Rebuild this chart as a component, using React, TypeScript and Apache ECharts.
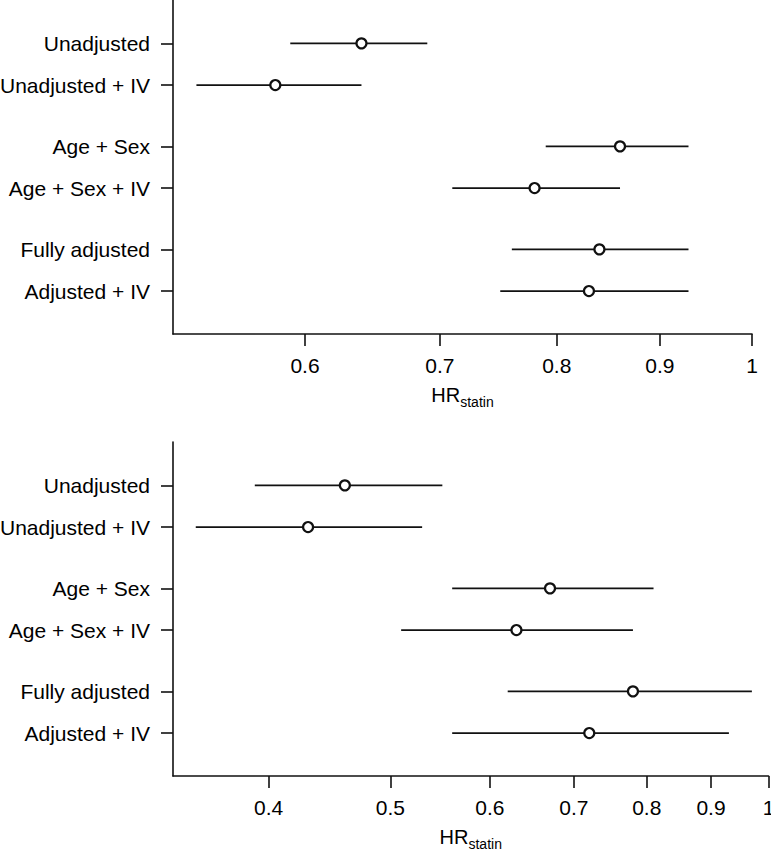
import React, { useEffect, useRef } from 'react';
import * as echarts from 'echarts';

// ---- Data ----
const rowLabels = ['Unadjusted', 'Unadjusted + IV', 'Age + Sex', 'Age + Sex + IV', 'Fully adjusted', 'Adjusted + IV'];

const topEst = [0.64, 0.58, 0.86, 0.78, 0.84, 0.83];
const topLo = [0.59, 0.53, 0.79, 0.71, 0.76, 0.75];
const topHi = [0.69, 0.64, 0.93, 0.86, 0.93, 0.93];

const bottomEst = [0.46, 0.43, 0.67, 0.63, 0.78, 0.72];
const bottomLo = [0.39, 0.35, 0.56, 0.51, 0.62, 0.56];
const bottomHi = [0.55, 0.53, 0.81, 0.78, 0.97, 0.93];

const topTicks = [0.6, 0.7, 0.8, 0.9, 1];
const bottomTicks = [0.4, 0.5, 0.6, 0.7, 0.8, 0.9, 1];

const topRange = [0.516, 1];
const bottomRange = [0.3357, 1];

// ---- Layout ----
const GROUP_STEP = 2.47;
const rowPos = rowLabels.map((_, i) => Math.floor(i / 2) * GROUP_STEP + (i % 2));
const Y_MIN = -1.04;
const Y_MAX = 6.97;
const FONT = '"Liberation Sans", Arial, Helvetica, sans-serif';
const INK = '#111';

const fmtTick = (v: number) => String(Number(Math.exp(v).toFixed(2)));
const fmtRow = (v: number) => {
  let best = 0;
  let bd = Infinity;
  rowPos.forEach((p, i) => {
    const d = Math.abs(p - v);
    if (d < bd) { bd = d; best = i; }
  });
  return rowLabels[best];
};

function xAxis(idx: number, ticks: number[], range: number[]) {
  const tv = ticks.map(Math.log);
  return {
    type: 'value',
    gridIndex: idx,
    min: Math.log(range[0]),
    max: Math.log(range[1]),
    axisLine: { show: true, onZero: false, lineStyle: { color: INK, width: 1.6 } },
    axisTick: { show: true, customValues: tv, length: 12, lineStyle: { color: INK, width: 1.6 } },
    axisLabel: { customValues: tv, formatter: fmtTick, margin: 21, fontSize: 21, color: '#000', fontFamily: FONT },
    splitLine: { show: false },
    name: '{hr|HR}{sub|statin}',
    nameLocation: 'middle',
    nameGap: 51,
    nameTextStyle: {
      color: '#000',
      fontFamily: FONT,
      rich: {
        hr: { fontSize: 20, lineHeight: 24, verticalAlign: 'top', fontFamily: FONT, color: '#000' },
        sub: { fontSize: 14, verticalAlign: 'bottom', fontFamily: FONT, color: '#000' },
      },
    },
  };
}

function yAxis(idx: number) {
  return {
    type: 'value',
    gridIndex: idx,
    inverse: true,
    min: Y_MIN,
    max: Y_MAX,
    axisLine: { show: true, onZero: false, lineStyle: { color: INK, width: 1.6 } },
    axisTick: { show: true, customValues: rowPos, length: 12, lineStyle: { color: INK, width: 1.6 } },
    axisLabel: { customValues: rowPos, formatter: fmtRow, margin: 23, fontSize: 21, color: '#000', fontFamily: FONT },
    splitLine: { show: false },
  };
}

function panelSeries(idx: number, est: number[], lo: number[], hi: number[]) {
  const ciData = est.map((_, i) => [Math.log(lo[i]), Math.log(hi[i]), rowPos[i]]);
  const ptData = est.map((v, i) => [Math.log(v), rowPos[i]]);
  return [
    {
      type: 'custom',
      xAxisIndex: idx,
      yAxisIndex: idx,
      data: ciData,
      encode: { x: [0, 1], y: 2 },
      z: 2,
      silent: true,
      renderItem: (_p: any, api: any) => {
        const a = api.coord([api.value(0), api.value(2)]);
        const b = api.coord([api.value(1), api.value(2)]);
        return {
          type: 'line',
          shape: { x1: a[0], y1: a[1], x2: b[0], y2: b[1] },
          style: { stroke: INK, lineWidth: 1.8 },
        };
      },
    },
    {
      type: 'scatter',
      xAxisIndex: idx,
      yAxisIndex: idx,
      data: ptData,
      symbol: 'circle',
      symbolSize: 10,
      z: 3,
      silent: true,
      itemStyle: { color: '#fff', borderColor: INK, borderWidth: 2.2, opacity: 1 },
    },
  ];
}

export default function App() {
  const ref = useRef<HTMLDivElement>(null);
  useEffect(() => {
    if (!ref.current) return;
    const chart = echarts.init(ref.current, undefined, { renderer: 'svg' });
    chart.setOption({
      animation: false,
      backgroundColor: '#fff',
      grid: [
        { left: 173, right: 19, top: 0, height: 334, containLabel: false, outerBoundsMode: 'none' },
        { left: 173, right: 2.5, top: 442, height: 334, containLabel: false, outerBoundsMode: 'none' },
      ],
      xAxis: [xAxis(0, topTicks, topRange), xAxis(1, bottomTicks, bottomRange)],
      yAxis: [yAxis(0), yAxis(1)],
      series: [
        ...panelSeries(0, topEst, topLo, topHi),
        ...panelSeries(1, bottomEst, bottomLo, bottomHi),
      ],
    } as any);
    return () => chart.dispose();
  }, []);
  return (
    <div
      ref={ref}
      style={{ position: 'absolute', left: 0, top: 0, width: 771, height: 853, background: '#fff' }}
    />
  );
}
